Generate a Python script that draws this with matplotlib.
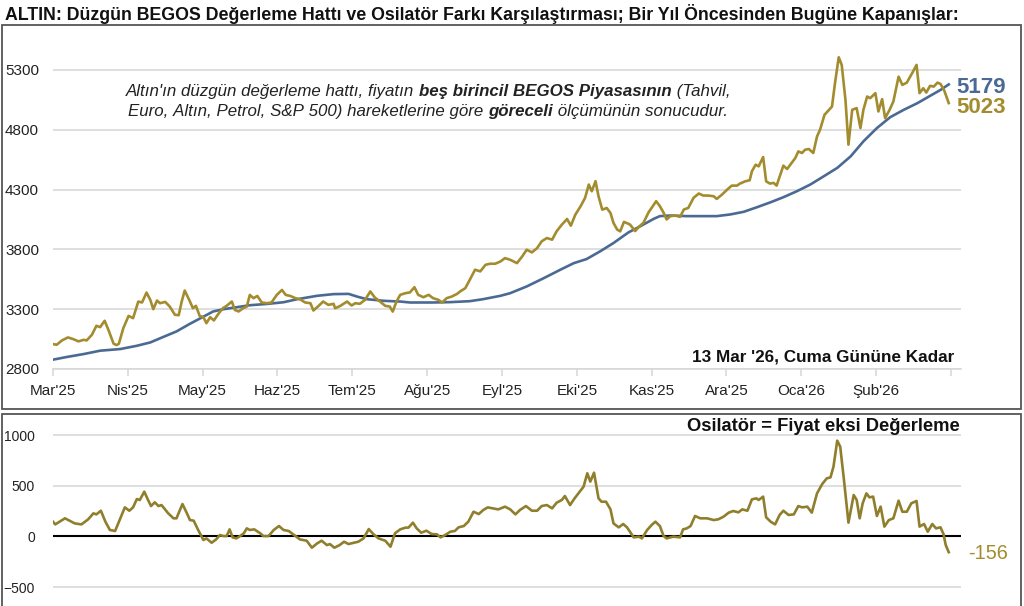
import matplotlib
matplotlib.use("Agg")
from matplotlib import pyplot as plt
from matplotlib.patches import Rectangle

plt.rcParams['font.family'] = ['Liberation Sans', 'DejaVu Sans']

# x = months since Mar'25
month_labels = ["Mar'25", "Nis'25", "May'25", "Haz'25", "Tem'25", "Ağu'25", "Eyl'25",
                "Eki'25", "Kas'25", "Ara'25", "Oca'26", "Şub'26", ""]

price_t = [0.00, 0.05, 0.12, 0.20, 0.27, 0.34, 0.41, 0.45, 0.52, 0.58, 0.63, 0.69, 0.74, 0.81, 0.85,
           0.88, 0.94, 1.01, 1.07, 1.14, 1.19, 1.25, 1.30, 1.34, 1.39, 1.43, 1.50, 1.56, 1.63, 1.68,
           1.72, 1.76, 1.82, 1.87, 1.91, 1.96, 2.01, 2.05, 2.10, 2.15, 2.21, 2.27, 2.32, 2.39, 2.43,
           2.48, 2.54, 2.59, 2.63, 2.68, 2.73, 2.79, 2.86, 2.92, 2.99, 3.06, 3.11, 3.17, 3.24, 3.30,
           3.37, 3.44, 3.48, 3.55, 3.61, 3.68, 3.75, 3.77, 3.84, 3.93, 3.99, 4.04, 4.10, 4.17, 4.24,
           4.30, 4.37, 4.44, 4.50, 4.54, 4.59, 4.64, 4.71, 4.77, 4.83, 4.88, 4.95, 5.02, 5.08, 5.15,
           5.20, 5.26, 5.33, 5.40, 5.44, 5.51, 5.57, 5.64, 5.71, 5.78, 5.84, 5.91, 5.98, 6.04, 6.11,
           6.20, 6.27, 6.33, 6.40, 6.47, 6.53, 6.60, 6.67, 6.73, 6.80, 6.87, 6.92, 6.98, 7.05, 7.11,
           7.16, 7.20, 7.25, 7.29, 7.34, 7.40, 7.45, 7.49, 7.54, 7.58, 7.63, 7.71, 7.78, 7.83, 7.89,
           7.96, 8.00, 8.06, 8.11, 8.16, 8.20, 8.25, 8.32, 8.38, 8.43, 8.49, 8.56, 8.63, 8.69, 8.76,
           8.83, 8.87, 8.94, 9.01, 9.07, 9.14, 9.18, 9.25, 9.31, 9.34, 9.39, 9.43, 9.49, 9.53, 9.58,
           9.63, 9.67, 9.72, 9.76, 9.81, 9.87, 9.92, 9.96, 10.01, 10.05, 10.10, 10.16, 10.21, 10.25,
           10.31, 10.37, 10.41, 10.45, 10.50, 10.54, 10.59, 10.63, 10.68, 10.74, 10.79, 10.83, 10.88,
           10.92, 10.99, 11.03, 11.08, 11.12, 11.18, 11.23, 11.30, 11.35, 11.41, 11.48, 11.54, 11.58,
           11.63, 11.67, 11.72, 11.77, 11.82, 11.86, 11.91, 11.97]
price = [3008, 3003, 3039, 3064, 3050, 3031, 3044, 3039, 3086, 3161, 3150, 3203, 3128, 3011, 3000,
         3011, 3142, 3244, 3225, 3364, 3356, 3439, 3378, 3300, 3372, 3350, 3361, 3322, 3253, 3250,
         3364, 3456, 3378, 3308, 3328, 3244, 3233, 3183, 3233, 3206, 3261, 3308, 3328, 3364, 3294,
         3281, 3308, 3322, 3419, 3392, 3411, 3356, 3350, 3356, 3419, 3461, 3419, 3411, 3392, 3383,
         3356, 3350, 3289, 3328, 3364, 3336, 3345, 3308, 3328, 3364, 3331, 3350, 3345, 3378, 3448,
         3398, 3364, 3328, 3322, 3280, 3364, 3420, 3434, 3440, 3484, 3420, 3400, 3420, 3392, 3378,
         3356, 3392, 3406, 3428, 3448, 3476, 3546, 3630, 3616, 3671, 3680, 3680, 3699, 3727, 3713,
         3685, 3741, 3797, 3775, 3811, 3867, 3895, 3881, 3951, 4007, 4054, 3998, 4090, 4160, 4230,
         4342, 4286, 4370, 4244, 4132, 4146, 4104, 4021, 3965, 3951, 4030, 4008, 3953, 3989, 4022,
         4111, 4147, 4203, 4161, 4106, 4050, 4078, 4083, 4072, 4133, 4147, 4231, 4267, 4250, 4250,
         4244, 4222, 4258, 4300, 4333, 4333, 4350, 4369, 4378, 4453, 4508, 4494, 4572, 4369, 4350,
         4356, 4333, 4425, 4500, 4472, 4522, 4564, 4619, 4606, 4633, 4639, 4606, 4744, 4800,
         4925, 4967, 4994, 5189, 5406, 5342, 5050, 4675, 4967, 4981, 4814, 4967, 5078,
         5064, 5106, 4953, 5056, 4897, 4967, 5036, 5244, 5175, 5194, 5272, 5342, 5106,
         5147, 5111, 5167, 5161, 5194, 5183, 5128, 5023]

value_t = [0.00, 0.18, 0.41, 0.63, 0.90, 1.12, 1.30, 1.47, 1.65, 1.83, 1.99, 2.14, 2.28, 2.46, 2.63,
           2.86, 3.08, 3.26, 3.53, 3.75, 3.95, 4.06, 4.19, 4.42, 4.64, 4.77, 5.08, 5.31, 5.57, 5.75,
           5.98, 6.11, 6.33, 6.56, 6.78, 6.96, 7.13, 7.31, 7.49, 7.69, 7.85, 8.03, 8.11, 8.25, 8.47,
           8.69, 8.87, 9.05, 9.23, 9.41, 9.59, 9.76, 9.94, 10.12, 10.30, 10.48, 10.66, 10.83, 11.01,
           11.19, 11.37, 11.55, 11.72, 11.86, 11.97]
value = [2878, 2900, 2925, 2953, 2967, 2994, 3022, 3067, 3114, 3178, 3231, 3281, 3300, 3317, 3333,
         3344, 3358, 3383, 3412, 3426, 3428, 3406, 3384, 3370, 3364, 3356, 3356, 3359, 3367, 3384,
         3412, 3434, 3490, 3560, 3630, 3685, 3719, 3783, 3853, 3942, 3994, 4056, 4078, 4083, 4078,
         4078, 4078, 4092, 4114, 4153, 4194, 4236, 4286, 4342, 4411, 4481, 4578, 4703, 4814,
         4906, 4967, 5022, 5083, 5133, 5179]

osc_t = [0.00, 0.03, 0.16, 0.29, 0.38, 0.47, 0.54, 0.58, 0.64, 0.70, 0.76, 0.83, 0.90, 0.96, 1.02,
         1.07, 1.12, 1.16, 1.22, 1.27, 1.31, 1.36, 1.41, 1.45, 1.54, 1.61, 1.65, 1.73, 1.79, 1.83,
         1.88, 1.94, 2.01, 2.05, 2.12, 2.18, 2.23, 2.28, 2.32, 2.36, 2.40, 2.45, 2.50, 2.55, 2.59,
         2.63, 2.69, 2.77, 2.81, 2.88, 2.95, 3.02, 3.08, 3.15, 3.24, 3.30, 3.39, 3.46, 3.53, 3.59,
         3.66, 3.70, 3.76, 3.83, 3.89, 3.95, 4.02, 4.08, 4.15, 4.22, 4.28, 4.35, 4.44, 4.51, 4.57,
         4.64, 4.71, 4.75, 4.81, 4.86, 4.92, 4.99, 5.06, 5.13, 5.18, 5.24, 5.31, 5.37, 5.42, 5.49,
         5.55, 5.62, 5.69, 5.75, 5.81, 5.88, 5.95, 6.04, 6.11, 6.18, 6.24, 6.32, 6.40, 6.47, 6.53,
         6.60, 6.67, 6.73, 6.80, 6.84, 6.91, 6.97, 7.05, 7.09, 7.14, 7.18, 7.23, 7.29, 7.33, 7.39,
         7.45, 7.49, 7.56, 7.62, 7.67, 7.71, 7.76, 7.83, 7.87, 7.94, 8.00, 8.05, 8.11, 8.16, 8.20,
         8.29, 8.38, 8.42, 8.47, 8.52, 8.58, 8.65, 8.74, 8.83, 8.89, 8.96, 9.03, 9.09, 9.16, 9.21,
         9.28, 9.34, 9.40, 9.43, 9.49, 9.53, 9.59, 9.65, 9.71, 9.76, 9.83, 9.90, 9.96, 10.01, 10.08,
         10.14, 10.21, 10.28, 10.34, 10.39, 10.43, 10.48, 10.52, 10.57, 10.63, 10.70, 10.74, 10.78,
         10.82, 10.87, 10.91, 10.96, 11.01, 11.06, 11.11, 11.17, 11.23, 11.30, 11.35, 11.41, 11.47,
         11.54, 11.58, 11.64, 11.69, 11.75, 11.80, 11.86, 11.90, 11.93, 11.97]
osc = [145, 118, 178, 128, 118, 168, 227, 217, 253, 145, 63, 53, 178, 286, 253,
       286, 368, 359, 441, 359, 299, 336, 299, 309, 227, 178, 178, 319, 227, 161,
       155, 63, -36, -20, -63, -30, 13, 3, 3, 69, -10, -20, 3, 30, 79,
       63, 69, 30, 3, 3, 63, 102, 63, 53, 3, -30, -43, -112, -69, -43,
       -86, -76, -112, -86, -53, -76, -63, -53, -20, 72, 23, -20, -43, -102, 30,
       69, 86, 86, 135, 79, 36, 56, 23, 20, -10, 13, 46, 53, 89, 102,
       145, 243, 220, 260, 286, 276, 266, 293, 266, 217, 260, 299, 253, 253, 299,
       309, 276, 332, 359, 398, 309, 375, 451, 490, 622, 540, 628, 375, 342, 342,
       266, 128, 89, 122, 89, 46, -10, -3, -20, 63, 112, 145, 102, 3, -20,
       -3, -10, 69, 79, 102, 201, 178, 178, 161, 168, 194, 234, 250, 237, 266,
       253, 365, 375, 359, 392, 188, 145, 118, 211, 253, 211, 217, 299, 286, 293,
       234, 424, 517, 572, 582, 688, 944, 885, 556, 135, 408, 359, 178,
       326, 424, 385, 392, 201, 293, 96, 161, 178, 352, 243, 243, 326,
       349, 96, 122, 46, 122, 79, 89, 23, -86, -156]

GOLD = "#A38C2E"
OSC_GOLD = "#8F7F2C"
BLUE = "#4B6A93"
GRID = "#D6D6D6"

W, H = 1024, 606
fig = plt.figure(figsize=(W / 100, H / 100), dpi=100)


def fx(px):
    return px / W


def fy(py):
    return 1 - py / H


# panel frames
fig.add_artist(Rectangle((fx(2), fy(409)), fx(1021) - fx(2), fy(25) - fy(409),
                         transform=fig.transFigure, fill=False, ec="#555555", lw=1.3))
fig.add_artist(Rectangle((fx(2), fy(612)), fx(1021) - fx(2), fy(414) - fy(612),
                         transform=fig.transFigure, fill=False, ec="#555555", lw=1.3))

# ---- top panel ----
ax = fig.add_axes([fx(53), fy(369), fx(961) - fx(53), fy(30) - fy(369)])
ax.plot(value_t, value, color=BLUE, lw=1.9, zorder=3)
ax.plot(price_t, price, color=GOLD, lw=1.9, zorder=4)
ax.set_xlim(0, 12.134)
ax.set_ylim(2800, 5634)
ax.set_yticks([2800, 3300, 3800, 4300, 4800, 5300])
ax.set_xticks(range(13))
ax.set_xticklabels(month_labels)
ax.grid(axis="y", color=GRID, lw=1.1)
ax.set_axisbelow(True)
for s in ["top", "right", "left"]:
    ax.spines[s].set_visible(False)
ax.spines["bottom"].set_color(GRID)
ax.spines["bottom"].set_linewidth(1.1)
ax.tick_params(axis="y", length=0, pad=10, labelsize=11, labelcolor="#222222")
ax.tick_params(axis="x", length=5, color=GRID, width=1.1, pad=6, labelsize=11,
               labelcolor="#222222")

# ---- bottom panel ----
ax2 = fig.add_axes([fx(53), fy(606), fx(961) - fx(53), fy(420) - fy(606)])
ax2.plot(osc_t, osc, color=OSC_GOLD, lw=1.9, zorder=4)
ax2.axhline(0, color="black", lw=1.5, zorder=3)
ax2.set_xlim(0, 12.134)
ax2.set_ylim(-687, 1148)
ax2.set_yticks([-500, 0, 500, 1000])
ax2.set_xticks([])
ax2.grid(axis="y", color=GRID, lw=1.1)
ax2.set_axisbelow(True)
for s in ax2.spines.values():
    s.set_visible(False)
ax2.tick_params(axis="y", length=0, pad=13, labelsize=10, labelcolor="#222222")

# ---- texts ----
fig.text(fx(5), fy(20.5), "ALTIN: Düzgün BEGOS Değerleme Hattı ve Osilatör Farkı "
         "Karşılaştırması; Bir Yıl Öncesinden Bugüne Kapanışlar:",
         fontsize=12.8, fontweight="bold", va="baseline", ha="left", color="#111111")

fig.text(fx(954), fy(362), "13 Mar '26, Cuma Gününe Kadar", fontsize=12.3,
         fontweight="bold", ha="right", va="baseline", color="#111111")
fig.text(fx(960), fy(431), "Osilatör = Fiyat eksi Değerleme", fontsize=13.2,
         fontweight="bold", ha="right", va="baseline", color="#111111")

fig.text(fx(956), fy(93), f"{value[-1]}", fontsize=16, fontweight="bold",
         color=BLUE, ha="left", va="baseline")
fig.text(fx(956), fy(113), f"{price[-1]}", fontsize=16, fontweight="bold",
         color=GOLD, ha="left", va="baseline")
fig.text(fx(968), fy(559), f"{osc[-1]}", fontsize=14.3, color=GOLD, ha="left",
         va="baseline")

# annotation with mixed italic / bold italic pieces
note_lines = [
    [("Altın'ın düzgün değerleme hattı, fiyatın ", "normal"),
     ("beş birincil BEGOS Piyasasının", "bold"),
     (" (Tahvil,", "normal")],
    [("Euro, Altın, Petrol, S&P 500) hareketlerine göre ", "normal"),
     ("göreceli", "bold"),
     (" ölçümünün sonucudur.", "normal")],
]
renderer = fig.canvas.get_renderer()
for line, base in zip(note_lines, [96, 116]):
    parts = []
    for txt, wt in line:
        t = fig.text(0, fy(base), txt.replace(" ", "\u00a0"), fontsize=12.2, style="italic",
                     fontweight=wt, color="#222222", ha="left", va="baseline")
        parts.append(t)
    widths = [p.get_window_extent(renderer).width for p in parts]
    x0 = 428 - sum(widths) / 2
    for p, w in zip(parts, widths):
        p.set_x(fx(x0))
        x0 += w

fig.savefig("out.png", dpi=100)
